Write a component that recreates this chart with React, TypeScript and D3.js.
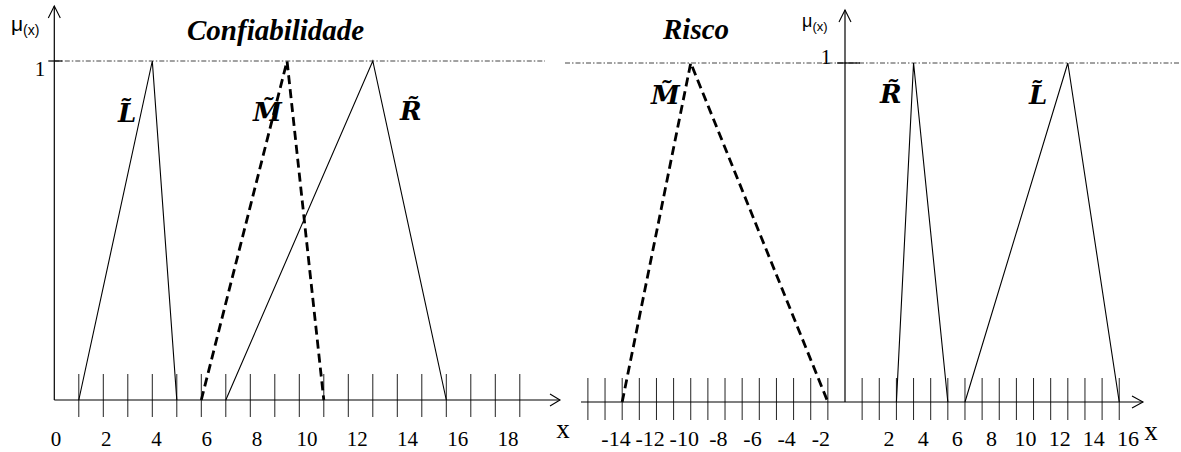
import React from "react";
import * as d3 from "d3";

// Triangular fuzzy numbers (a, b, c) for each linguistic term
const confL = [1, 4, 5];
const confM = [6, 9.5, 11];
const confR = [7, 13, 16];

const riskM = [-13, -9, -1];
const riskR = [3, 4, 6];
const riskL = [7, 13, 16];

// Axis ticks and their labels
const confTicks = [1, 2, 3, 4, 5, 6, 7, 8, 9, 10, 11, 12, 13, 14, 15, 16, 17, 18, 19];
const confLabels = [0, 2, 4, 6, 8, 10, 12, 14, 16, 18];
const riskTicks = [-15, -14, -13, -12, -11, -10, -9, -8, -7, -6, -5, -4, -3, -2, -1,
  1, 2, 3, 4, 5, 6, 7, 8, 9, 10, 11, 12, 13, 14, 15, 16];
const riskLabels = [-14, -12, -10, -8, -6, -4, -2, 2, 4, 6, 8, 10, 12, 14, 16];

const W = 1181;
const H = 452;

const serif = '"Liberation Serif", "Times New Roman", serif';
const sans = '"Liberation Sans", Arial, sans-serif';
const mathFont = '"DejaVu Serif", serif';

function Triangle({ pts, x, y, dashed }: { pts: number[]; x: any; y: any; dashed?: boolean }) {
  const line = d3.line<[number, number]>().x((d) => x(d[0])).y((d) => y(d[1]));
  const data: [number, number][] = [[pts[0], 0], [pts[1], 1], [pts[2], 0]];
  return (
    <path
      d={line(data) || ""}
      fill="none"
      stroke="#000"
      strokeWidth={dashed ? 2.8 : 1.1}
      strokeDasharray={dashed ? "9,5" : undefined}
      strokeLinejoin="miter"
    />
  );
}

function Term({ label, px, py }: { label: string; px: number; py: number }) {
  return (
    <text x={px} y={py} style={{ fontFamily: mathFont, fontWeight: "bold", fontStyle: "italic", fontSize: 26 }}>
      {label + "\u0303"}
    </text>
  );
}

const serifStyle = (size: number, extra: any = {}) => ({ fontFamily: serif, fontSize: size, ...extra });

export default function App() {
  // Confiabilidade panel
  const xc = d3.scaleLinear().domain([0, 19]).range([54.3, 54.3 + 19 * 24.5]);
  const yc = d3.scaleLinear().domain([0, 1]).range([400, 61]);
  const xcLab = d3.scaleLinear().domain([0, 18]).range([56, 508]);

  // Risco panel
  const xr = d3.scaleLinear().domain([-15, 16]).range([845 - 15 * 17.14, 845 + 16 * 17.14]);
  const yr = d3.scaleLinear().domain([0, 1]).range([402, 63]);
  const xrLab = d3.scaleLinear().domain([-14, 16]).range([616, 1128]);

  const c0 = xc(0);
  const r0 = xr(0);
  const cb = yc(0);
  const rb = yr(0);

  return (
    <svg width={W} height={H} style={{ display: "block", position: "absolute", left: 0, top: 0 }}>
      <rect width={W} height={H} fill="#fff" />

      {/* ---------- Confiabilidade ---------- */}
      <line x1={c0} x2={545} y1={yc(1)} y2={yc(1)} stroke="#444" strokeWidth={1} strokeDasharray="5,2,1.5,2" />
      <line x1={c0 - 6} x2={c0 + 8} y1={yc(1)} y2={yc(1)} stroke="#000" strokeWidth={1.2} />

      {confTicks.map((t) => (
        <line key={t} x1={xc(t)} x2={xc(t)} y1={cb - 26} y2={cb + 17} stroke="#222" strokeWidth={1} />
      ))}

      <line x1={c0} x2={560} y1={cb} y2={cb} stroke="#000" strokeWidth={1.2} />
      <path d={`M${550},${cb - 6} L${560},${cb} L${550},${cb + 6}`} fill="none" stroke="#000" strokeWidth={1.1} />
      <line x1={c0} x2={c0} y1={cb} y2={6} stroke="#000" strokeWidth={1.2} />
      <path d={`M${c0 - 6},${18} L${c0},${6} L${c0 + 6},${18}`} fill="none" stroke="#000" strokeWidth={1.1} />

      <Triangle pts={confL} x={xc} y={yc} />
      <Triangle pts={confR} x={xc} y={yc} />
      <Triangle pts={confM} x={xc} y={yc} dashed />

      {confLabels.map((v) => (
        <text key={v} x={xcLab(v)} y={446} textAnchor="middle" style={serifStyle(21)}>
          {v}
        </text>
      ))}
      <text x={563} y={438} textAnchor="middle" style={serifStyle(27)}>x</text>
      <text x={40} y={76} textAnchor="middle" style={serifStyle(21)}>1</text>

      <text x={11} y={31} style={{ fontFamily: sans, fontSize: 21 }}>
        μ<tspan style={{ fontSize: 14 }} dy={4}>(x)</tspan>
      </text>

      <text x={187} y={40} style={serifStyle(29, { fontWeight: "bold", fontStyle: "italic" })}>
        Confiabilidade
      </text>

      <Term label="L" px={118} py={122} />
      <Term label="M" px={253} py={121} />
      <Term label="R" px={400} py={120} />

      {/* ---------- Risco ---------- */}
      <line x1={565} x2={W} y1={yr(1)} y2={yr(1)} stroke="#444" strokeWidth={1} strokeDasharray="5,2,1.5,2" />
      <line x1={r0 - 8} x2={r0 + 15} y1={yr(1)} y2={yr(1)} stroke="#000" strokeWidth={1.2} />

      {riskTicks.map((t) => (
        <line key={t} x1={xr(t)} x2={xr(t)} y1={rb - 24} y2={rb + 18} stroke="#222" strokeWidth={1} />
      ))}

      <line x1={581} x2={1143} y1={rb} y2={rb} stroke="#000" strokeWidth={1.2} />
      <path d={`M${1132},${rb - 6} L${1143},${rb} L${1132},${rb + 6}`} fill="none" stroke="#000" strokeWidth={1.1} />
      <line x1={r0} x2={r0} y1={rb} y2={10} stroke="#000" strokeWidth={1.2} />
      <path d={`M${r0 - 6},${22} L${r0},${10} L${r0 + 6},${22}`} fill="none" stroke="#000" strokeWidth={1.1} />

      <Triangle pts={riskR} x={xr} y={yr} />
      <Triangle pts={riskL} x={xr} y={yr} />
      <Triangle pts={riskM} x={xr} y={yr} dashed />

      {riskLabels.map((v) => (
        <text key={v} x={xrLab(v)} y={446} textAnchor="middle" style={serifStyle(22)}>
          {v}
        </text>
      ))}
      <text x={1151} y={440} textAnchor="middle" style={serifStyle(27)}>x</text>
      <text x={826} y={64} textAnchor="middle" style={serifStyle(21)}>1</text>

      <text x={802} y={27} style={{ fontFamily: sans, fontSize: 18 }}>
        μ<tspan style={{ fontSize: 13 }} dy={4}>(x)</tspan>
      </text>

      <text x={663} y={39} style={serifStyle(29, { fontWeight: "bold", fontStyle: "italic" })}>
        Risco
      </text>

      <Term label="M" px={651} py={104} />
      <Term label="R" px={880} py={103} />
      <Term label="L" px={1029} py={104} />
    </svg>
  );
}
